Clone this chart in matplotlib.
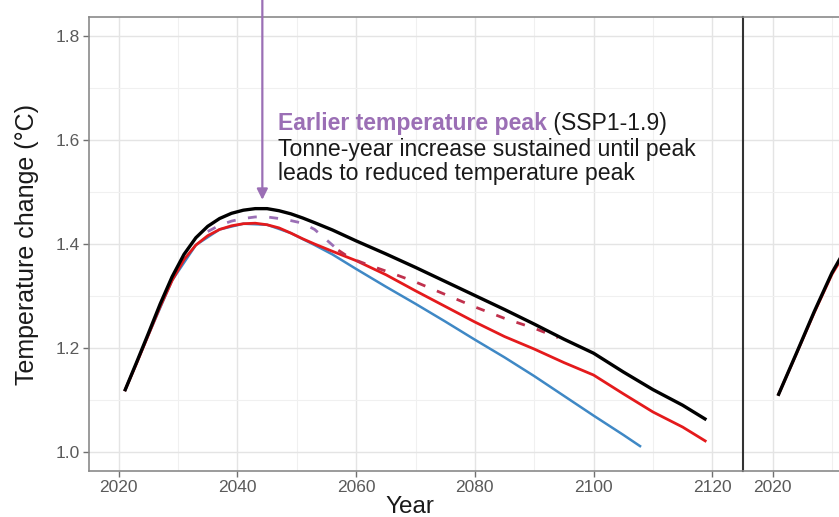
import matplotlib
matplotlib.use('Agg')
import matplotlib.pyplot as plt
from matplotlib.ticker import MultipleLocator

plt.rcParams['font.family'] = ['Liberation Sans', 'DejaVu Sans']

# Temperature pathways (°C), left panel
years_black = [2021, 2023, 2025, 2027, 2029, 2031, 2033, 2035, 2037, 2039, 2041, 2043, 2045,
               2047, 2049, 2051, 2053, 2056, 2060, 2065, 2070, 2075, 2080, 2085, 2090,
               2095, 2100, 2105, 2110, 2115, 2119]
temp_black = [1.117, 1.172, 1.228, 1.285, 1.337, 1.380, 1.412, 1.434, 1.449, 1.459, 1.465, 1.468, 1.468,
              1.464, 1.458, 1.450, 1.441, 1.427, 1.406, 1.381, 1.355, 1.328, 1.301, 1.274, 1.246,
              1.217, 1.190, 1.154, 1.120, 1.090, 1.062]

years_red = [2021, 2023, 2025, 2027, 2029, 2031, 2033, 2035, 2037, 2039, 2041, 2043, 2045,
             2047, 2049, 2051, 2053, 2056, 2060, 2065, 2070, 2075, 2080, 2085, 2090,
             2095, 2100, 2105, 2110, 2115, 2119]
temp_red = [1.117, 1.170, 1.225, 1.280, 1.330, 1.370, 1.398, 1.416, 1.428, 1.435, 1.439, 1.440, 1.437,
            1.431, 1.421, 1.410, 1.400, 1.386, 1.368, 1.341, 1.310, 1.280, 1.250, 1.222, 1.198,
            1.172, 1.148, 1.112, 1.077, 1.048, 1.020]

years_blue = [2021, 2025, 2029, 2033, 2037, 2041, 2045, 2049, 2053, 2056, 2060, 2065, 2070,
              2075, 2080, 2085, 2090, 2095, 2100, 2105, 2108]
temp_blue = [1.117, 1.225, 1.330, 1.398, 1.428, 1.439, 1.437, 1.421, 1.398, 1.380, 1.352, 1.318, 1.285,
             1.251, 1.216, 1.182, 1.146, 1.108, 1.070, 1.033, 1.010]

# SSP1-1.9 earlier-peak pathway (dashed)
years_peak = [2035, 2037, 2039, 2041, 2043, 2045, 2047, 2049, 2051, 2053, 2055, 2057]
temp_peak = [1.424, 1.436, 1.444, 1.449, 1.452, 1.452, 1.449, 1.445, 1.440, 1.428, 1.408, 1.388]
years_dash = [2057, 2059, 2062, 2066, 2070, 2075, 2080, 2085, 2090, 2094]
temp_dash = [1.388, 1.373, 1.360, 1.344, 1.327, 1.303, 1.279, 1.257, 1.238, 1.220]

# right panel (only the start is in view)
years_r = [2021, 2024, 2027, 2030, 2033, 2036]
temp_r_black = [1.111, 1.190, 1.270, 1.345, 1.405, 1.440]
temp_r_red = [1.111, 1.189, 1.268, 1.342, 1.398, 1.428]

x_ticks = [2020, 2040, 2060, 2080, 2100, 2120]
y_ticks = [1.0, 1.2, 1.4, 1.6, 1.8]

purple = '#9b6fb5'
red = '#e41a1c'
blue = '#3f88c5'

fig = plt.figure(figsize=(8.39, 5.17), dpi=100)
W, H = 839, 517
ax = fig.add_axes([89 / W, 1 - 471 / H, 653 / W, 454 / H])
ax2 = fig.add_axes([743 / W, 1 - 471 / H, 653 / W, 454 / H])


def style(a, xt):
    a.set_xlim(2015, 2125)
    a.set_ylim(0.9635, 1.8365)
    a.set_xticks(xt)
    a.set_yticks(y_ticks)
    a.xaxis.set_minor_locator(MultipleLocator(10))
    a.yaxis.set_minor_locator(MultipleLocator(0.1))
    a.grid(True, which='major', color='#e4e4e4', lw=1.0)
    a.grid(True, which='minor', color='#f0f0f0', lw=0.8)
    a.set_axisbelow(True)
    a.tick_params(which='major', length=4.5, width=1.0, color='#707070',
                  labelsize=12.5, labelcolor='#5a5a5a', pad=2)
    a.tick_params(which='minor', length=0)
    for s in a.spines.values():
        s.set_color('#8a8a8a')
        s.set_linewidth(1.2)


style(ax, x_ticks)
style(ax2, x_ticks[:1])
ax.spines['right'].set_visible(False)
ax2.spines['left'].set_color('#333333')
ax2.spines['left'].set_linewidth(1.5)
ax2.tick_params(axis='y', left=False, labelleft=False)

ax.plot(years_blue, temp_blue, color=blue, lw=1.8, solid_capstyle='butt')
ax.plot(years_red, temp_red, color=red, lw=2.0, solid_capstyle='butt')
ax.plot(years_peak, temp_peak, color=purple, lw=2.0, ls=(0, (3.2, 4.5)))
ax.plot(years_dash, temp_dash, color='#c0304c', lw=2.0, ls=(0, (3.2, 4.5)))
ax.plot(years_black, temp_black, color='black', lw=2.4, solid_capstyle='butt')

ax2.plot(years_r, temp_r_red, color=red, lw=2.0)
ax2.plot(years_r, temp_r_black, color='black', lw=2.4)

ax.set_ylabel('Temperature change (°C)', fontsize=18, color='#1a1a1a')
ax.set_xlabel('Year', fontsize=17.5, color='#1a1a1a')
ax.yaxis.set_label_coords(-0.0765, 0.5)
ax.xaxis.set_label_coords(0.492, -0.055)

# arrow pointing to the earlier peak
ax.annotate('', xy=(2044.2, 1.485), xytext=(2044.2, 1.875),
            arrowprops=dict(arrowstyle='-|>', color=purple, lw=1.6,
                            mutation_scale=16, shrinkA=0, shrinkB=0),
            annotation_clip=False)

t1 = ax.text(0.2894, 0.751, 'Earlier temperature peak', transform=ax.transAxes,
             fontsize=16.6, fontweight='bold', color=purple, va='baseline')
ax.annotate(' (SSP1-1.9)', xy=(1, 0), xycoords=t1, fontsize=16.6,
            color='#1a1a1a', va='bottom')
ax.text(0.2894, 0.6938, 'Tonne-year increase sustained until peak', transform=ax.transAxes,
        fontsize=16.6, color='#1a1a1a', va='baseline')
ax.text(0.2894, 0.641, 'leads to reduced temperature peak', transform=ax.transAxes,
        fontsize=16.6, color='#1a1a1a', va='baseline')

fig.savefig('out.png', dpi=100)
plt.close()
